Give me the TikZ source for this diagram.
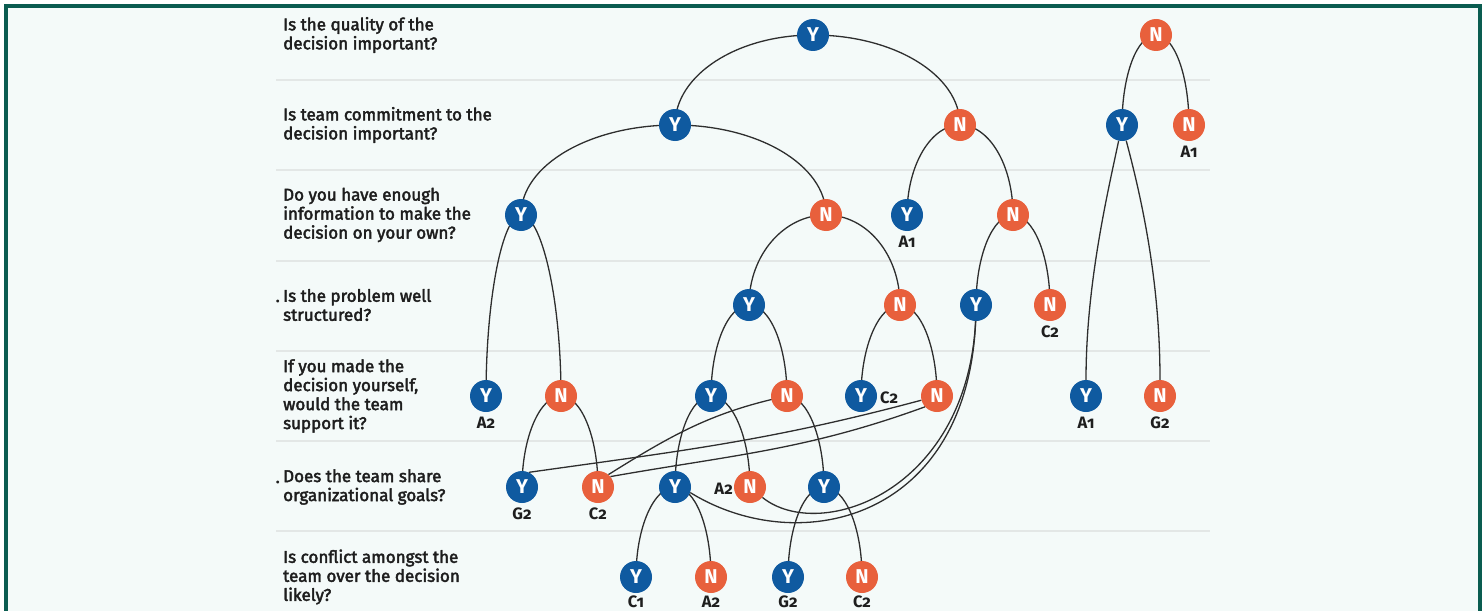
\documentclass[tikz,border=0pt]{standalone}
\usepackage{fontspec}
\setmainfont{Fira Sans}[Numbers=OldStyle]
\newfontfamily\qfont{Fira Sans}[FakeBold=2.5]
\definecolor{cblue}{HTML}{0F5AA0}
\definecolor{corange}{HTML}{E8603C}
\definecolor{ctext}{HTML}{1E1E1E}
\definecolor{cedge}{HTML}{2E2E2E}
\definecolor{cbg}{HTML}{F4FAF9}
\definecolor{cframe}{HTML}{0A5C50}
\definecolor{cline}{HTML}{E3E7E6}
\pgfdeclarelayer{bg}
\pgfdeclarelayer{links}
\pgfsetlayers{bg,links,main}
\tikzset{
  yn/.style={circle, inner sep=0pt, minimum size=32pt, text=white, font=\fontsize{20}{20}\selectfont\bfseries},
  ynY/.style={yn, fill=cblue},
  ynN/.style={yn, fill=corange},
  lab/.style={font=\fontsize{16.5}{16.5}\selectfont\bfseries, text=ctext, inner sep=0pt},
  ques/.style={font=\qfont\fontsize{17}{19}\selectfont, align=left, anchor=west, inner sep=0pt, text=ctext},
  conn/.style={draw=cedge, line width=1.3pt},
  sep/.style={draw=cline, line width=2pt}
}
\newcommand\ynarc[4]{\draw[conn] (#1.center) .. controls +(#3,0) and +(0,#4) .. (#2.center);}
\begin{document}
\begin{tikzpicture}[x=1pt,y=1pt]
\useasboundingbox (0,0) rectangle (1482,-610);
\begin{pgfonlayer}{bg}
\clip (0,0) rectangle (1482,-610);
\fill[white] (0,0) rectangle (1482,-610);
\fill[cbg] (6,-6) rectangle (1480,-700);
\draw[cframe,line width=4pt] (6,-6) rectangle (1480,-700);
\foreach \yy in {80,170,261,351,441,531} \draw[sep] (276,-\yy) -- (1210,-\yy);
\end{pgfonlayer}

% questions
\node[ques] (t1) at (283,-35) {Is the quality of the\\decision important?};
\node[ques] (t2) at (283,-125) {Is team commitment to the\\decision important?};
\node[ques] (t3) at (283,-215) {Do you have enough\\information to make the\\decision on your own?};
\node[ques] (t4) at (283,-305) {Is the problem well\\structured?};
\node[ques, anchor=base east] (d4) at (280,-302) {.};
\node[ques] (t5) at (283,-396) {If you made the\\decision yourself,\\would the team\\support it?};
\node[ques] (t6) at (283,-487) {Does the team share\\organizational goals?};
\node[ques, anchor=base east] (d6) at (280,-483) {.};
\node[ques] (t7) at (283,-577) {Is conflict amongst the\\team over the decision\\likely?};

% nodes
\node[ynY] (q1Y) at (813,-35) {Y};
\node[ynN] (q1N) at (1156,-35) {N};
\node[ynY] (a2Y) at (675,-125) {Y};
\node[ynN] (a2N) at (960,-125) {N};
\node[ynY] (b2Y) at (1122,-125) {Y};
\node[ynN] (b2N) at (1189,-125) {N};
\node[ynY] (a3Y) at (521,-215) {Y};
\node[ynN] (a3N) at (826,-215) {N};
\node[ynY] (b3Y) at (907,-215) {Y};
\node[ynN] (b3N) at (1013,-215) {N};
\node[ynY] (a4Y) at (749,-305) {Y};
\node[ynN] (a4N) at (900,-305) {N};
\node[ynY] (b4Y) at (976,-305) {Y};
\node[ynN] (b4N) at (1050,-305) {N};
\node[ynY] (r5a) at (486,-396) {Y};
\node[ynN] (r5b) at (561,-396) {N};
\node[ynY] (r5c) at (711,-396) {Y};
\node[ynN] (r5d) at (787,-396) {N};
\node[ynY] (r5e) at (861,-396) {Y};
\node[ynN] (r5f) at (937,-396) {N};
\node[ynY] (r5g) at (1086,-396) {Y};
\node[ynN] (r5h) at (1160,-396) {N};
\node[ynY] (r6a) at (522,-487) {Y};
\node[ynN] (r6b) at (598,-487) {N};
\node[ynY] (r6c) at (675,-487) {Y};
\node[ynN] (r6d) at (750,-487) {N};
\node[ynY] (r6e) at (824,-487) {Y};
\node[ynY] (r7a) at (636,-577) {Y};
\node[ynN] (r7b) at (711,-577) {N};
\node[ynY] (r7c) at (788,-577) {Y};
\node[ynN] (r7d) at (862,-577) {N};

% leaf labels
\node[lab] (lb2N) at (1189,-152) {A1};
\node[lab] (lb3Y) at (907,-242) {A1};
\node[lab] (lb4N) at (1050,-332) {C2};
\node[lab] (l5a) at (486,-423) {A2};
\node[lab, anchor=west] (l5e) at (880,-398) {C2};
\node[lab] (l5g) at (1086,-423) {A1};
\node[lab] (l5h) at (1160,-423) {G2};
\node[lab] (l6a) at (522,-514) {G2};
\node[lab] (l6b) at (598,-514) {C2};
\node[lab, anchor=east] (l6d) at (733,-489) {A2};
\node[lab] (l7a) at (636,-602) {C1};
\node[lab] (l7b) at (711,-602) {A2};
\node[lab] (l7c) at (788,-602) {G2};
\node[lab] (l7d) at (862,-602) {C2};

\begin{pgfonlayer}{links}
\ynarc{q1Y}{a2Y}{-76}{50}
\ynarc{q1Y}{a2N}{81}{50}
\ynarc{q1N}{b2Y}{-19}{50}
\ynarc{q1N}{b2N}{18}{50}
\ynarc{a2Y}{a3Y}{-85}{50}
\ynarc{a2Y}{a3N}{83}{50}
\ynarc{a2N}{b3Y}{-29}{50}
\ynarc{a2N}{b3N}{29}{50}
\draw[conn] (b2Y) to[out=-102,in=90,out looseness=0.6] (r5g);
\draw[conn] (b2Y) to[out=-75,in=90,out looseness=0.7] (r5h);
\ynarc{a3Y}{r5a}{-18}{100}
\ynarc{a3Y}{r5b}{20}{100}
\ynarc{a3N}{a4Y}{-42}{50}
\ynarc{a3N}{a4N}{41}{50}
\ynarc{b3N}{b4Y}{-20}{50}
\ynarc{b3N}{b4N}{20}{50}
\ynarc{a4Y}{r5c}{-21}{50}
\ynarc{a4Y}{r5d}{21}{50}
\ynarc{a4N}{r5e}{-21}{50}
\ynarc{a4N}{r5f}{20}{50}
\ynarc{r5b}{r6a}{-21}{50}
\ynarc{r5b}{r6b}{20}{50}
\ynarc{r5c}{r6c}{-20}{50}
\ynarc{r5c}{r6d}{21}{50}
\ynarc{r5d}{r6e}{20}{50}
\ynarc{r6c}{r7a}{-21}{50}
\ynarc{r6c}{r7b}{20}{50}
\ynarc{r6e}{r7c}{-20}{50}
\ynarc{r6e}{r7d}{21}{50}
% crossing links
\draw[conn] (r5d.center) to[out=192,in=32] (r6b.50);
\draw[conn] (r5f.195) to[out=195,in=8] (r6a.65);
\draw[conn] (r5f.222) to[out=200,in=10] (r6b.40);
\draw[conn] (b4Y.center) .. controls +(0,-185) and +(58,-47) .. (r6d.-40);
\draw[conn] (b4Y.center) .. controls +(0,-215) and +(110,-68) .. (r6c.-20);
\end{pgfonlayer}
\end{tikzpicture}
\end{document}
